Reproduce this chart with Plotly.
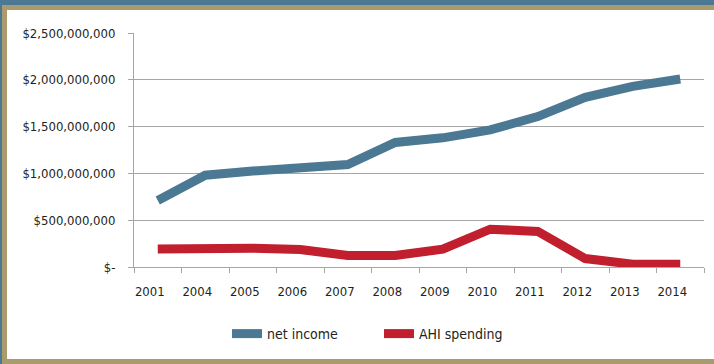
import plotly.graph_objects as go

years = ["2001", "2004", "2005", "2006", "2007", "2008", "2009", "2010", "2011", "2012", "2013", "2014"]
net_income = [710e6, 980e6, 1025e6, 1050e6, 1095e6, 1330e6, 1380e6, 1465e6, 1607e6, 1812e6, 1930e6, 2008e6]
ahi_spending = [191e6, 200e6, 200e6, 186e6, 122e6, 122e6, 191e6, 404e6, 380e6, 90e6, 30e6, 30e6]
y_tickvals = [0, 500e6, 1000e6, 1500e6, 2000e6, 2500e6]
y_ticktext = ["$-", "$500,000,000", "$1,000,000,000", "$1,500,000,000", "$2,000,000,000", "$2,500,000,000"]

W, H = 714, 364
L, R, T, B = 134, 10, 33, 97
pw, ph = W - L - R, H - T - B

def px(x):
    return (x - L) / pw

def py(y):
    return (H - B - y) / ph

BLUE = "#4b7893"
RED = "#c11f2e"
TAN = "#a99b6e"
FONT = "Liberation Sans Narrow, DejaVu Sans Condensed, Arial Narrow, sans-serif"

fig = go.Figure()
fig.add_trace(go.Scatter(x=years, y=net_income, mode="lines", name="net income",
                         line=dict(color=BLUE, width=9)))
fig.add_trace(go.Scatter(x=years, y=ahi_spending, mode="lines", name="AHI spending",
                         line=dict(color=RED, width=9)))

shapes = [
    dict(type="rect", xref="paper", yref="paper", x0=px(0), x1=px(W), y0=py(0), y1=py(H),
         fillcolor=TAN, line_width=0, layer="below"),
    dict(type="rect", xref="paper", yref="paper", x0=px(0), x1=px(W), y0=py(0), y1=py(5),
         fillcolor=BLUE, line_width=0, layer="below"),
    dict(type="rect", xref="paper", yref="paper", x0=px(0), x1=px(2), y0=py(0), y1=py(H),
         fillcolor=BLUE, line_width=0, layer="below"),
    dict(type="rect", xref="paper", yref="paper", x0=px(7), x1=px(W), y0=py(10), y1=py(359),
         fillcolor="white", line_width=0, layer="below"),
]

fig.update_layout(
    width=W, height=H,
    margin=dict(l=L, r=R, t=T, b=B, autoexpand=False),
    paper_bgcolor="white", plot_bgcolor="rgba(0,0,0,0)",
    font=dict(family=FONT, size=13, color="#231f20"),
    shapes=shapes,
    showlegend=True,
    legend=dict(orientation="h", x=px(227), y=py(318), xanchor="left", yanchor="top",
                entrywidth=107, entrywidthmode="pixels", bgcolor="rgba(0,0,0,0)",
                font=dict(size=14)),
    xaxis=dict(type="category", tickson="boundaries", showgrid=False,
               range=[-0.5, len(years) - 0.5], automargin=False,
               showline=True, linecolor="#a6a6a6", linewidth=1,
               ticks="outside", ticklen=5, tickcolor="#a6a6a6",
               ticklabelshift=-8, ticklabelstandoff=12, zeroline=False),
    yaxis=dict(range=[0, 2.5e9], tickvals=y_tickvals, ticktext=y_ticktext,
               automargin=False,
               showgrid=True, gridcolor="#a6a6a6", gridwidth=1,
               showline=True, linecolor="#a6a6a6", linewidth=1,
               ticks="outside", ticklen=5, tickcolor="#a6a6a6",
               ticklabelstandoff=10, zeroline=False),
)

fig.write_html("out.html", config={"displayModeBar": False},
               post_script="document.body.style.margin='0';document.body.style.overflow='hidden';")
